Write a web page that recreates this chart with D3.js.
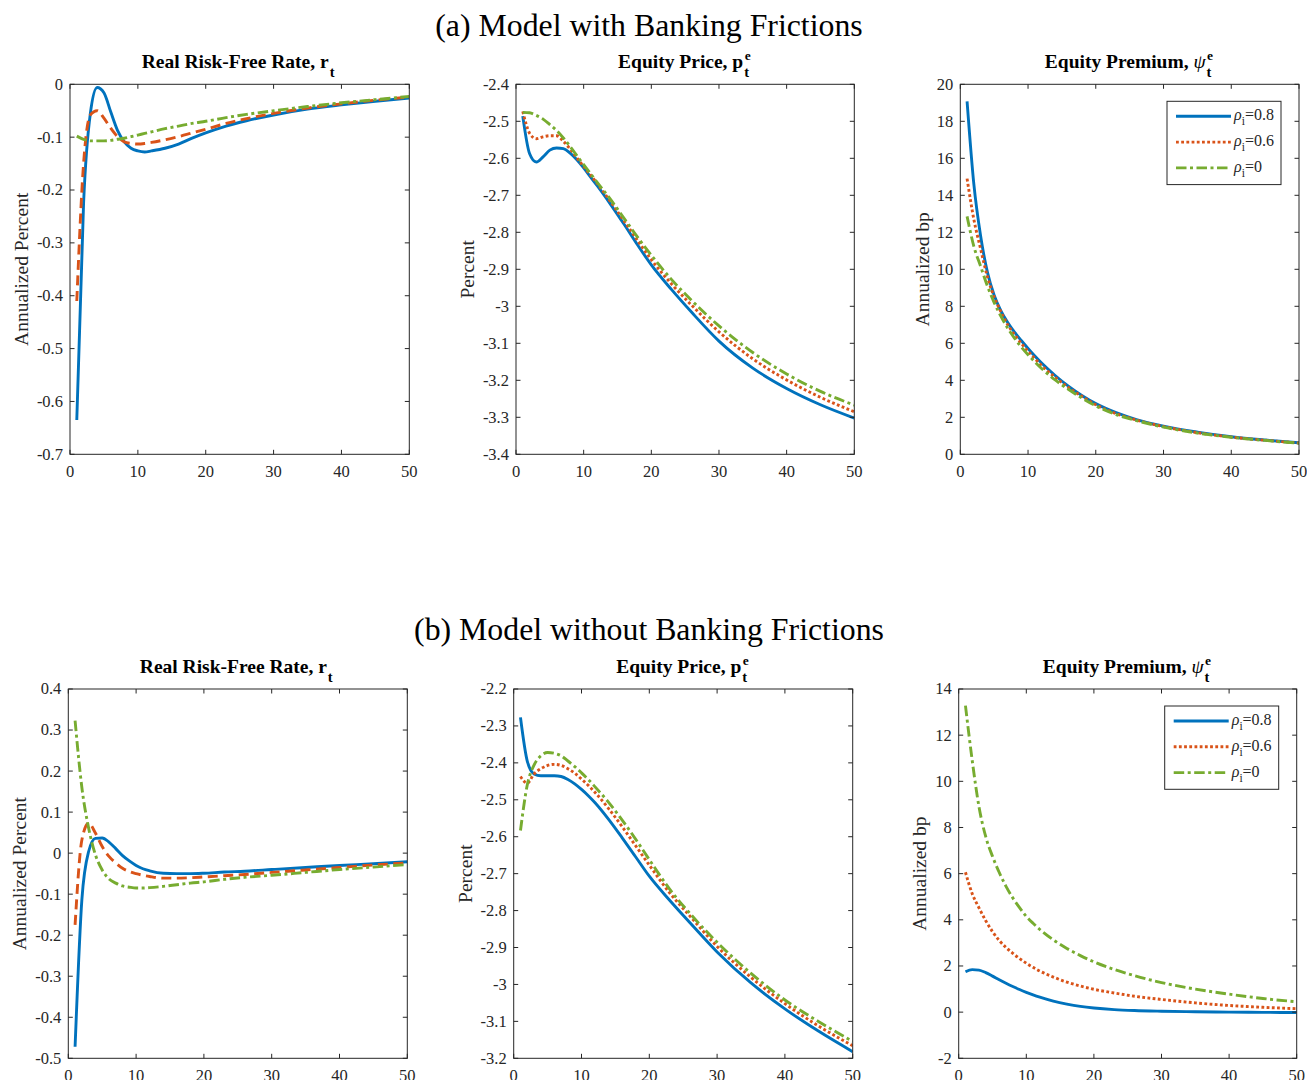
<!DOCTYPE html>
<html><head><meta charset="utf-8">
<script src="https://cdn.jsdelivr.net/npm/d3@7"></script>
<style>
body{margin:0;background:#fff}
svg{display:block}
text{font-family:"Liberation Serif","Times New Roman",serif;fill:#262626}
</style>
</head><body>
<svg id="chart" width="1307" height="1080"></svg>
<script>
// ---------------- DATA ----------------
const periods = [1,2,3,4,5,6,7,8,9,10,11,12,14,16,18,20,23,26,30,35,40,45,50];
const rhoLabels = ["0.8","0.6","0"];
const xTicks = [0,10,20,30,40,50];

// (a) Model with Banking Frictions
const rateBank08 = [-0.635,-0.225,-0.055,-0.006,-0.016,-0.052,-0.087,-0.109,-0.121,-0.126,-0.128,-0.126,-0.121,-0.113,-0.102,-0.092,-0.079,-0.069,-0.058,-0.047,-0.039,-0.032,-0.026];
const rateBank06 = [-0.41,-0.15,-0.058,-0.050,-0.064,-0.083,-0.099,-0.109,-0.112,-0.113,-0.112,-0.110,-0.105,-0.099,-0.092,-0.085,-0.074,-0.065,-0.055,-0.045,-0.037,-0.030,-0.024];
const rateBank0  = [-0.098,-0.104,-0.107,-0.107,-0.107,-0.106,-0.104,-0.102,-0.099,-0.096,-0.093,-0.090,-0.084,-0.079,-0.074,-0.070,-0.063,-0.057,-0.050,-0.042,-0.035,-0.029,-0.023];

const priceBank08 = [-2.486,-2.587,-2.610,-2.596,-2.578,-2.572,-2.574,-2.586,-2.604,-2.626,-2.650,-2.674,-2.725,-2.779,-2.835,-2.888,-2.955,-3.017,-3.094,-3.167,-3.222,-3.266,-3.302];
const priceBank06 = [-2.473,-2.532,-2.547,-2.542,-2.539,-2.539,-2.554,-2.575,-2.599,-2.622,-2.645,-2.668,-2.718,-2.770,-2.823,-2.874,-2.940,-2.998,-3.069,-3.142,-3.199,-3.246,-3.285];
const priceBank0  = [-2.476,-2.477,-2.484,-2.494,-2.509,-2.525,-2.545,-2.568,-2.593,-2.617,-2.641,-2.665,-2.712,-2.763,-2.814,-2.862,-2.928,-2.985,-3.053,-3.125,-3.183,-3.230,-3.267];

const premBank08 = [19.08,14.6,11.8,9.85,8.6,7.75,7.12,6.6,6.15,5.72,5.31,4.93,4.26,3.67,3.17,2.74,2.25,1.88,1.52,1.2,0.95,0.77,0.62];
const premBank06 = [14.9,12.7,11.1,9.6,8.5,7.7,7.0,6.47,6.0,5.57,5.17,4.8,4.16,3.6,3.12,2.68,2.2,1.85,1.5,1.17,0.93,0.76,0.61];
const premBank0  = [12.86,11.24,10.16,9.1,8.2,7.46,6.82,6.28,5.8,5.38,5.0,4.64,4.02,3.5,3.03,2.62,2.15,1.82,1.47,1.15,0.92,0.75,0.6];

// (b) Model without Banking Frictions
const rateNoBank08 = [-0.472,-0.114,0.004,0.036,0.037,0.027,0.011,-0.006,-0.019,-0.030,-0.038,-0.043,-0.049,-0.050,-0.050,-0.049,-0.046,-0.044,-0.040,-0.035,-0.030,-0.026,-0.021];
const rateNoBank06 = [-0.175,0.032,0.073,0.049,0.016,-0.008,-0.024,-0.037,-0.045,-0.050,-0.054,-0.057,-0.061,-0.061,-0.060,-0.058,-0.055,-0.052,-0.047,-0.041,-0.035,-0.029,-0.024];
const rateNoBank0  = [0.323,0.16,0.061,-0.004,-0.041,-0.063,-0.073,-0.080,-0.083,-0.085,-0.085,-0.084,-0.081,-0.077,-0.073,-0.070,-0.064,-0.059,-0.054,-0.047,-0.040,-0.034,-0.028];

const priceNoBank08 = [-2.277,-2.395,-2.430,-2.435,-2.435,-2.435,-2.437,-2.445,-2.457,-2.472,-2.489,-2.508,-2.553,-2.603,-2.655,-2.707,-2.772,-2.833,-2.912,-2.996,-3.066,-3.127,-3.182];
const priceNoBank06 = [-2.437,-2.455,-2.430,-2.416,-2.407,-2.404,-2.407,-2.416,-2.428,-2.444,-2.461,-2.480,-2.524,-2.573,-2.625,-2.677,-2.752,-2.815,-2.897,-2.981,-3.052,-3.113,-3.166];
const priceNoBank0  = [-2.583,-2.460,-2.406,-2.381,-2.372,-2.374,-2.381,-2.395,-2.410,-2.427,-2.445,-2.465,-2.507,-2.555,-2.607,-2.662,-2.742,-2.808,-2.886,-2.970,-3.042,-3.101,-3.154];

const premNoBank08 = [1.75,1.84,1.82,1.71,1.56,1.40,1.25,1.11,0.98,0.86,0.75,0.65,0.48,0.35,0.25,0.18,0.11,0.07,0.04,0.015,0,-0.01,-0.015];
const premNoBank06 = [6.06,5.13,4.52,3.96,3.49,3.10,2.80,2.55,2.32,2.12,1.94,1.78,1.52,1.30,1.13,0.99,0.83,0.69,0.55,0.4,0.29,0.21,0.15];
const premNoBank0  = [13.28,10.9,8.9,7.6,6.75,6.05,5.45,4.95,4.53,4.15,3.85,3.58,3.13,2.76,2.45,2.18,1.85,1.58,1.28,1.0,0.78,0.59,0.45];

// tick values
const rateBankTicks   = [-0.7,-0.6,-0.5,-0.4,-0.3,-0.2,-0.1,0];
const priceBankTicks  = [-3.4,-3.3,-3.2,-3.1,-3,-2.9,-2.8,-2.7,-2.6,-2.5,-2.4];
const premBankTicks   = [0,2,4,6,8,10,12,14,16,18,20];
const rateNoBankTicks = [-0.5,-0.4,-0.3,-0.2,-0.1,0,0.1,0.2,0.3,0.4];
const priceNoBankTicks= [-3.2,-3.1,-3,-2.9,-2.8,-2.7,-2.6,-2.5,-2.4,-2.3,-2.2];
const premNoBankTicks = [-2,0,2,4,6,8,10,12,14];

// ---------------- STYLE / LAYOUT ----------------
const colors = ["#0072BD","#D95319","#77AC30"];
const SOLID = null, DASH = "10,5.5", DOT = "2.8,2.4", DASHDOT = "10.5,3.5,3,3.5";
const LW = 2.9;
const rows = [
  {top:84.3, bottom:454.3, lefts:[70,516,960.3], rights:[409.3,854.3,1299], title:"(a) Model with Banking Frictions", titleY:36},
  {top:689, bottom:1058.3, lefts:[68.3,513.7,958.7], rights:[407.3,852.7,1296.7], title:"(b) Model without Banking Frictions", titleY:640}
];
const panels = [
  {row:0,col:0,title:"Real Risk-Free Rate, ",v:"r",sub:"t",sup:null,ylabel:"Annualized Percent",ticks:rateBankTicks,series:[rateBank08,rateBank06,rateBank0],dash:[SOLID,DASH,DASHDOT],yOff:49},
  {row:0,col:1,title:"Equity Price, ",v:"p",sub:"t",sup:"e",ylabel:"Percent",ticks:priceBankTicks,series:[priceBank08,priceBank06,priceBank0],dash:[SOLID,DOT,DASHDOT],yOff:49},
  {row:0,col:2,title:"Equity Premium, ",v:"ψ",psi:true,sub:"t",sup:"e",ylabel:"Annualized bp",ticks:premBankTicks,series:[premBank08,premBank06,premBank0],dash:[SOLID,DOT,DASHDOT],yOff:38.6,legend:true},
  {row:1,col:0,title:"Real Risk-Free Rate, ",v:"r",sub:"t",sup:null,ylabel:"Annualized Percent",ticks:rateNoBankTicks,series:[rateNoBank08,rateNoBank06,rateNoBank0],dash:[SOLID,DASH,DASHDOT],yOff:49},
  {row:1,col:1,title:"Equity Price, ",v:"p",sub:"t",sup:"e",ylabel:"Percent",ticks:priceNoBankTicks,series:[priceNoBank08,priceNoBank06,priceNoBank0],dash:[SOLID,DOT,DASHDOT],yOff:49},
  {row:1,col:2,title:"Equity Premium, ",v:"ψ",psi:true,sub:"t",sup:"e",ylabel:"Annualized bp",ticks:premNoBankTicks,series:[premNoBank08,premNoBank06,premNoBank0],dash:[SOLID,DOT,DASHDOT],yOff:39.4,legend:true}
];

const svg = d3.select("#chart");
const axisColor = "#262626";
const fmt = v => String(Math.round(v*10)/10);

rows.forEach(r => {
  svg.append("text").attr("x",649).attr("y",r.titleY).attr("text-anchor","middle")
    .attr("font-size",31.8).style("fill","#000").text(r.title);
});

panels.forEach((p,pi) => {
  const r = rows[p.row];
  const L = r.lefts[p.col], R = r.rights[p.col], T = r.top, B = r.bottom;
  const x = d3.scaleLinear().domain([0,50]).range([L,R]);
  const y = d3.scaleLinear().domain(d3.extent(p.ticks)).range([B,T]);
  const g = svg.append("g");

  const cid = "clip"+pi;
  svg.append("clipPath").attr("id",cid).append("rect").attr("x",L).attr("y",T).attr("width",R-L).attr("height",B-T);

  const line = d3.line().x((d,i)=>x(periods[i])).y(d=>y(d)).curve(d3.curveMonotoneX);
  p.series.forEach((s,si) => {
    g.append("path").attr("d",line(s)).attr("fill","none")
      .attr("stroke",colors[si]).attr("stroke-width",LW)
      .attr("stroke-dasharray",p.dash[si]).attr("stroke-linejoin","round")
      .attr("clip-path",`url(#${cid})`);
  });

  g.append("rect").attr("x",L).attr("y",T).attr("width",R-L).attr("height",B-T)
    .attr("fill","none").attr("stroke",axisColor).attr("stroke-width",1);

  const tl = 4.5;
  xTicks.forEach(t => {
    const xx = x(t);
    g.append("line").attr("x1",xx).attr("x2",xx).attr("y1",B).attr("y2",B-tl).attr("stroke",axisColor);
    g.append("line").attr("x1",xx).attr("x2",xx).attr("y1",T).attr("y2",T+tl).attr("stroke",axisColor);
    g.append("text").attr("x",xx).attr("y",B+22.5).attr("text-anchor","middle").attr("font-size",16.5).text(t);
  });
  p.ticks.forEach(t => {
    const yy = y(t);
    g.append("line").attr("x1",L).attr("x2",L+tl).attr("y1",yy).attr("y2",yy).attr("stroke",axisColor);
    g.append("line").attr("x1",R).attr("x2",R-tl).attr("y1",yy).attr("y2",yy).attr("stroke",axisColor);
    g.append("text").attr("x",L-7).attr("y",yy).attr("dy","0.33em").attr("text-anchor","end").attr("font-size",16.5).text(fmt(t));
  });

  const ly = (T+B)/2, lx = L - p.yOff;
  g.append("text").attr("transform",`translate(${lx},${ly}) rotate(-90)`)
    .attr("text-anchor","middle").attr("dy","0.35em").attr("font-size",19.5).text(p.ylabel);

  const tg = g.append("g");
  const tt = tg.append("text").attr("x",0).attr("y",0).attr("font-size",19.5).attr("font-weight","bold").style("fill","#000");
  tt.append("tspan").text(p.title);
  const vs = tt.append("tspan").text(p.v);
  if (p.psi) vs.attr("font-style","italic").attr("font-weight","normal");
  const w = tt.node().getComputedTextLength();
  tg.append("text").attr("x",w+1).attr("y",8.5).attr("font-size",14.5).attr("font-weight","bold").style("fill","#000").text(p.sub);
  if (p.sup) tg.append("text").attr("x",w+1.5).attr("y",-8.5).attr("font-size",13.5).attr("font-weight","bold").style("fill","#000").text(p.sup);
  const total = w + 9;
  tg.attr("transform",`translate(${(L+R)/2 - total/2},${T-16})`);

  if (p.legend) {
    const bx = R - 132, by = T + 17, bw = 114, bh = 83.3;
    const lg = g.append("g");
    lg.append("rect").attr("x",bx).attr("y",by).attr("width",bw).attr("height",bh)
      .attr("fill","#fff").attr("stroke",axisColor).attr("stroke-width",1);
    rhoLabels.forEach((lab,i) => {
      const ry = by + 15 + i*25.8;
      lg.append("line").attr("x1",bx+9).attr("x2",bx+64).attr("y1",ry).attr("y2",ry)
        .attr("stroke",colors[i]).attr("stroke-width",LW).attr("stroke-dasharray",[SOLID,DOT,DASHDOT][i]);
      const t = lg.append("text").attr("x",bx+67).attr("y",ry+4).attr("font-size",16);
      t.append("tspan").attr("font-style","italic").text("ρ");
      t.append("tspan").attr("dy",5).attr("font-size",11.5).text("i");
      t.append("tspan").attr("dy",-5).text("="+lab);
    });
  }
});
</script>
</body></html>
